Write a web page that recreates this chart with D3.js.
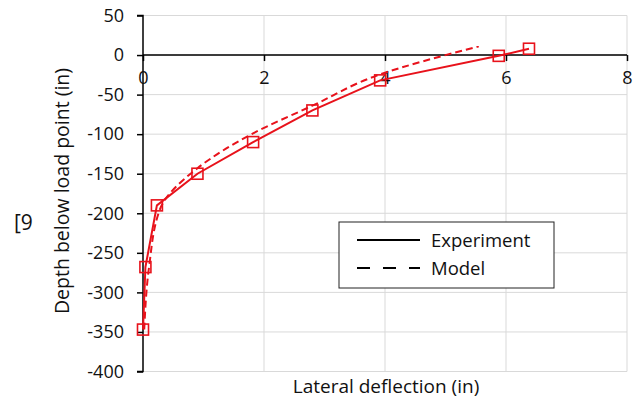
<!DOCTYPE html>
<html>
<head>
<meta charset="utf-8">
<script src="https://cdn.jsdelivr.net/npm/d3@7"></script>
<style>
  body { margin: 0; background: #fff; }
  text { font-family: "Open Sans", "Noto Sans", sans-serif; fill: #111; }
</style>
</head>
<body>
<div id="chart"></div>
<script>
// measured data (lateral deflection in, depth in)
const experimentX = [0.0, 0.04, 0.23, 0.9, 1.82, 2.8, 3.92, 5.88, 6.38];
const experimentY = [-347, -268, -190, -150, -110, -70, -32, -1, 8];
const modelX = [0.02, 0.1, 0.28, 0.9, 1.82, 2.8, 3.9, 5.55];
const modelY = [-347, -268, -195, -143, -99, -64, -25, 11];
const xTicks = [0, 2, 4, 6, 8];
const yTicks = [50, 0, -50, -100, -150, -200, -250, -300, -350, -400];

const width = 644, height = 401;
const red = '#e8121b';

const svg = d3.select('#chart').append('svg')
  .attr('width', width)
  .attr('height', height);

const x = d3.scaleLinear().domain([0, 8]).range([143, 627]);
const y = d3.scaleLinear().domain([-400, 50]).range([371.5, 15.5]);
const fmt = d => String(d); // plain hyphen minus, like the original

// gridlines
svg.append('g').selectAll('line.h')
  .data(yTicks)
  .enter().append('line')
  .attr('x1', x(0)).attr('x2', x(8))
  .attr('y1', d => y(d)).attr('y2', d => y(d))
  .style('stroke', '#d9d9d9').style('stroke-width', 1);

svg.append('g').selectAll('line.v')
  .data(xTicks.filter(d => d > 0))
  .enter().append('line')
  .attr('x1', d => x(d)).attr('x2', d => x(d))
  .attr('y1', y(50)).attr('y2', y(-400))
  .style('stroke', '#d9d9d9').style('stroke-width', 1);

// y axis
const yAxis = svg.append('g')
  .attr('transform', `translate(${x(0)},0)`)
  .call(d3.axisLeft(y).tickValues(yTicks).tickSize(6).tickPadding(13).tickFormat(fmt));
yAxis.select('.domain').attr('d', `M-6,${y(50)}H0V${y(-400)}H-6`).style('stroke', '#000').style('stroke-width', 1.5);
yAxis.selectAll('.tick line').style('stroke', '#000').style('stroke-width', 1.5);
yAxis.selectAll('.tick text').style('font-size', '18px').attr('fill', '#111')
  .style('font-family', '"Open Sans", sans-serif');

// x axis at y = 0
const xAxis = svg.append('g')
  .attr('transform', `translate(0,${y(0)})`)
  .call(d3.axisBottom(x).tickValues(xTicks).tickSize(6).tickPadding(10).tickFormat(fmt));
xAxis.select('.domain').attr('d', `M${x(0)},0H${x(8)}`).style('stroke', '#000').style('stroke-width', 1.5);
xAxis.selectAll('.tick line').style('stroke', '#000').style('stroke-width', 1.5);
xAxis.selectAll('.tick text').style('font-size', '18px').attr('fill', '#111')
  .style('font-family', '"Open Sans", sans-serif');

// series
const expData = experimentX.map((v, i) => [v, experimentY[i]]);
const modData = modelX.map((v, i) => [v, modelY[i]]);

svg.append('path')
  .datum(modData)
  .attr('d', d3.line().x(d => x(d[0])).y(d => y(d[1])).curve(d3.curveMonotoneY))
  .style('fill', 'none')
  .style('stroke', red)
  .style('stroke-width', 2)
  .style('stroke-dasharray', '7,4');

svg.append('path')
  .datum(expData)
  .attr('d', d3.line().x(d => x(d[0])).y(d => y(d[1])))
  .style('fill', 'none')
  .style('stroke', red)
  .style('stroke-width', 2);

svg.append('g').selectAll('rect')
  .data(expData)
  .enter().append('rect')
  .attr('x', d => x(d[0]) - 5.5)
  .attr('y', d => y(d[1]) - 5.5)
  .attr('width', 11).attr('height', 11)
  .style('fill', 'none')
  .style('stroke', red)
  .style('stroke-width', 1.6);

// axis titles
svg.append('text')
  .attr('x', 386).attr('y', 393)
  .attr('text-anchor', 'middle')
  .style('font-size', '19px')
  .text('Lateral deflection (in)');

svg.append('text')
  .attr('transform', 'translate(69,191) rotate(-90)')
  .attr('text-anchor', 'middle')
  .style('font-size', '19.5px')
  .text('Depth below load point (in)');

svg.append('text')
  .attr('x', 14).attr('y', 230)
  .style('font-size', '21px')
  .text('[9');

// legend
const legend = svg.append('g');
legend.append('rect')
  .attr('x', 339).attr('y', 222)
  .attr('width', 215).attr('height', 66)
  .style('fill', '#fff').style('stroke', '#222').style('stroke-width', 1);
const legendItems = [['Experiment', null], ['Model', '13,13']];
legendItems.forEach((d, i) => {
  const ly = 240 + i * 28;
  legend.append('line')
    .attr('x1', 357).attr('x2', 420)
    .attr('y1', ly).attr('y2', ly)
    .style('stroke', '#000').style('stroke-width', 2)
    .style('stroke-dasharray', d[1]);
  legend.append('text')
    .attr('x', 431).attr('y', ly + 6.5)
    .style('font-size', '18.5px')
    .text(d[0]);
});
</script>
</body>
</html>
